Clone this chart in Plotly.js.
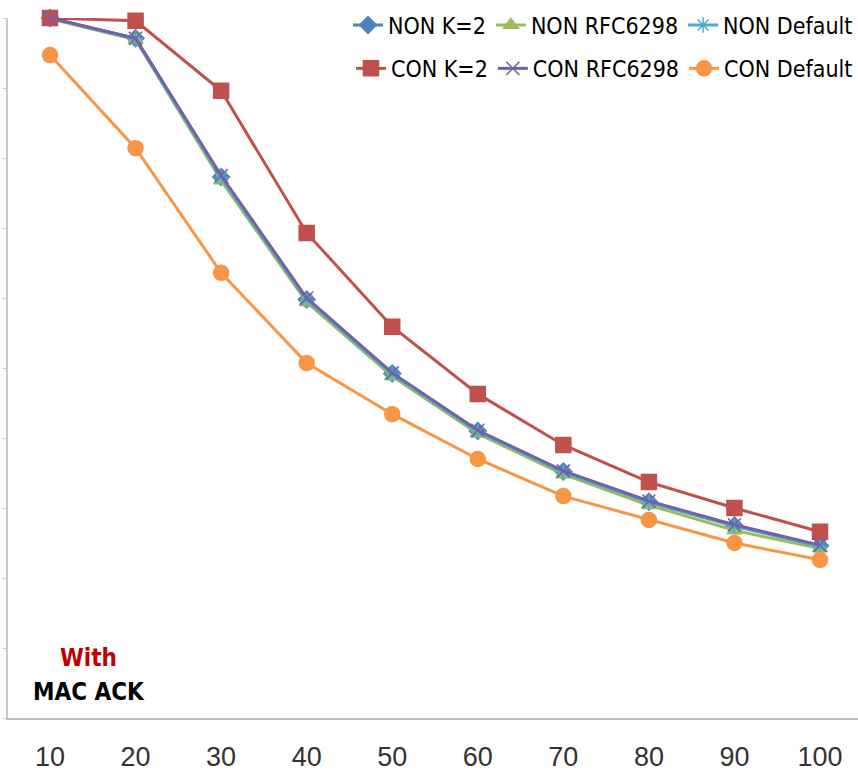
<!DOCTYPE html>
<html>
<head>
<meta charset="utf-8">
<script src="https://cdn.plot.ly/plotly-3.0.1.min.js"></script>
<style>html,body{margin:0;padding:0;background:#fff;}#chart{width:858px;height:771px;}</style>
</head>
<body>
<div id="chart"></div>
<script>
const nodes = [10, 20, 30, 40, 50, 60, 70, 80, 90, 100];
const tickLabels = ["10", "20", "30", "40", "50", "60", "70", "80", "90", "100"];

const nonK2      = [10.00, 9.71, 7.73, 5.98, 4.92, 4.10, 3.52, 3.09, 2.75, 2.46];
const nonRfc6298 = [9.99, 9.69, 7.68, 5.94, 4.88, 4.06, 3.48, 3.04, 2.68, 2.42];
const nonDefault = [10.00, 9.70, 7.72, 5.97, 4.91, 4.09, 3.51, 3.08, 2.74, 2.45];
const conK2      = [10.00, 9.96, 8.96, 6.93, 5.59, 4.63, 3.90, 3.37, 3.00, 2.66];
const conRfc6298 = [10.00, 9.71, 7.75, 6.00, 4.93, 4.11, 3.53, 3.10, 2.76, 2.47];
const conDefault = [9.47, 8.14, 6.36, 5.07, 4.34, 3.70, 3.17, 2.83, 2.50, 2.26];

const narrow = '"Liberation Sans Narrow", "Arial Narrow", "DejaVu Sans Condensed", sans-serif';

function tr(name, y, color, symbol, size, legend) {
  return {
    x: nodes, y: y, name: name, type: 'scatter', mode: 'lines+markers',
    line: {color: color, width: 3},
    marker: {color: color, symbol: symbol, size: size, line: {color: color, width: 1.5}},
    legend: legend, cliponaxis: false
  };
}

const data = [
  tr('NON K=2', nonK2, '#4f81bd', 'diamond', 13, 'legend'),
  tr('NON RFC6298', nonRfc6298, '#9bbb59', 'triangle-up', 13, 'legend'),
  tr('NON Default', nonDefault, '#4bacc6', 'asterisk-open', 13, 'legend'),
  tr('CON K=2', conK2, '#c0504d', 'square', 15, 'legend2'),
  tr('CON RFC6298', conRfc6298, '#7460a8', 'x-thin-open', 13, 'legend2'),
  tr('CON Default', conDefault, '#f79646', 'circle', 15, 'legend2')
];

const legendBase = {
  orientation: 'h', xanchor: 'right', x: 1.0, yanchor: 'middle',
  font: {family: narrow, size: 23, color: '#000'},
  bgcolor: 'rgba(0,0,0,0)', borderwidth: 0, itemclick: false
};

const layout = {
  width: 858, height: 771,
  margin: {l: 8, r: 0, t: 18, b: 53},
  paper_bgcolor: '#fff', plot_bgcolor: '#fff',
  showlegend: true,
  legend: Object.assign({}, legendBase, {y: 0.99}),
  legend2: Object.assign({}, legendBase, {y: 0.928}),
  xaxis: {
    type: 'linear', range: [5.09, 104.44],
    tickvals: nodes, ticktext: tickLabels,
    showgrid: false, zeroline: false,
    showline: true, linecolor: '#bfbfbf', linewidth: 2,
    ticks: '', ticklabelstandoff: 14,
    tickfont: {family: 'Liberation Sans, Arial, sans-serif', size: 27, color: '#333'}
  },
  yaxis: {
    range: [0, 10], dtick: 1, tick0: 0,
    showgrid: false, zeroline: false,
    showline: true, linecolor: '#c8c8c8', linewidth: 2,
    ticks: 'outside', ticklen: 3, tickcolor: '#c8c8c8', tickwidth: 1,
    showticklabels: false
  },
  annotations: [
    {xref: 'paper', yref: 'paper', x: 0.095, y: (718 - 658) / 700, xanchor: 'center', yanchor: 'middle',
     text: '<b>With</b>', showarrow: false, font: {family: narrow, size: 24, color: '#c00000'}},
    {xref: 'paper', yref: 'paper', x: 0.095, y: (718 - 692) / 700, xanchor: 'center', yanchor: 'middle',
     text: '<b>MAC ACK</b>', showarrow: false, font: {family: narrow, size: 24, color: '#000'}}
  ]
};

Plotly.newPlot('chart', data, layout, {displayModeBar: false, staticPlot: true});
</script>
</body>
</html>
